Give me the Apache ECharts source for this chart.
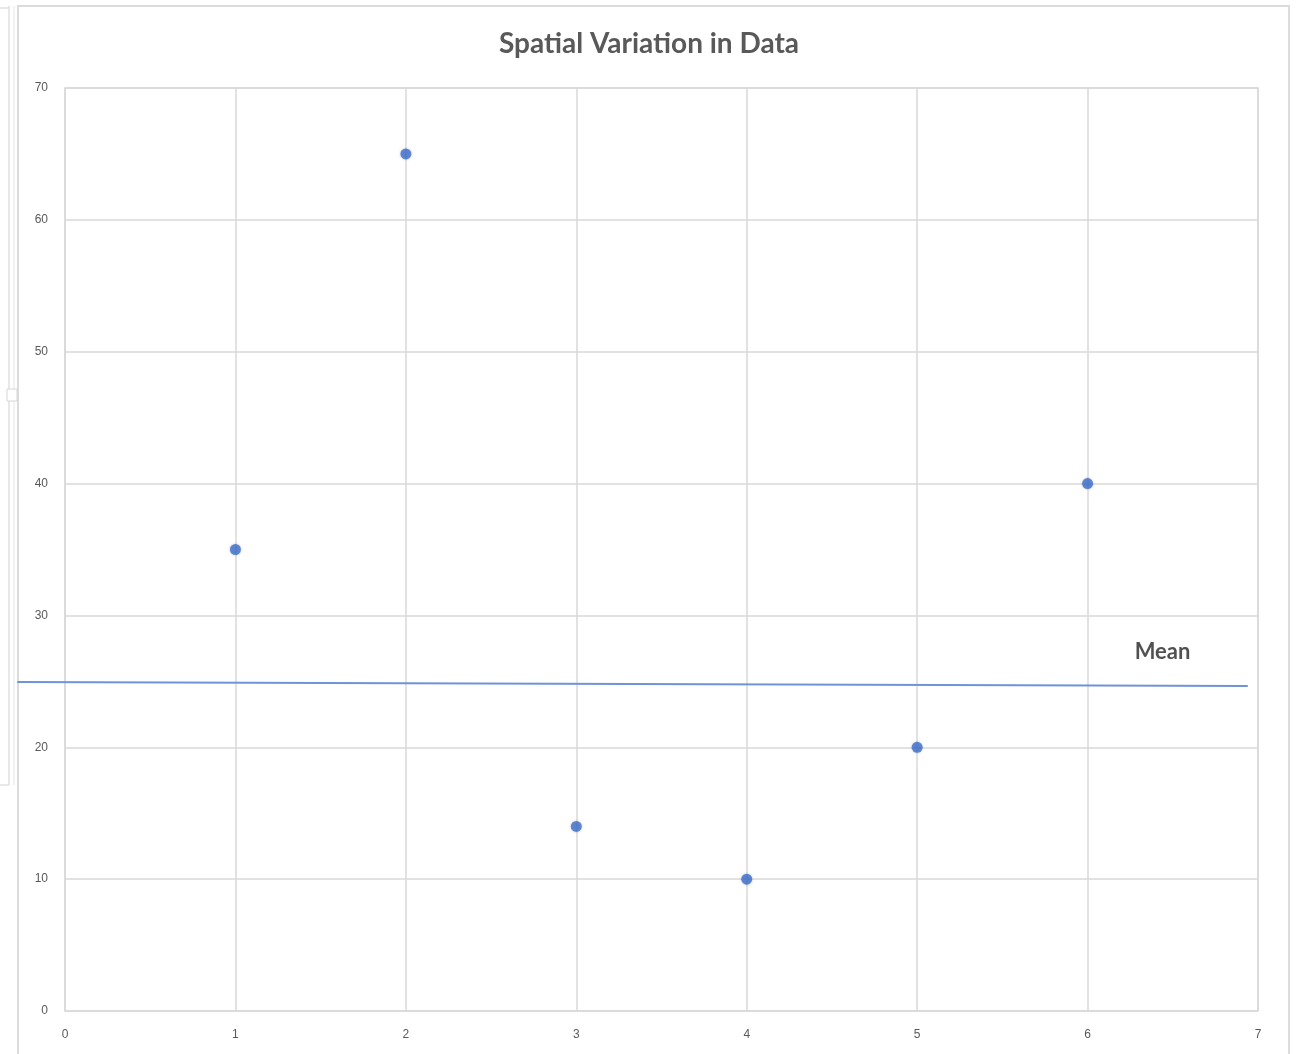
<!DOCTYPE html>
<html>
<head>
<meta charset="utf-8">
<script src="https://cdn.jsdelivr.net/npm/echarts@6/dist/echarts.min.js"></script>
<style>
html,body{margin:0;padding:0;background:#fff;}
#chart{width:1298px;height:1054px;}
</style>
</head>
<body>
<div id="chart"></div>
<script>
const title = 'Spatial Variation in Data';
const xValues = [1, 2, 3, 4, 5, 6];
const yValues = [35, 65, 14, 10, 20, 40];
const meanLine = [[-0.28, 24.95], [6.94, 24.65]];
const meanLabel = [[6.44, 27.2]];
const meanText = 'Mean';

const points = xValues.map((x, i) => [x, yValues[i]]);
const chart = echarts.init(document.getElementById('chart'));
const gray = '#595959';
chart.setOption({
  animation: false,
  backgroundColor: '#fff',
  title: {
    text: title, left: 'center', top: 25,
    textStyle: {fontFamily: 'Lato', fontWeight: 'bold', fontSize: 28, color: gray}
  },
  graphic: [
    {type: 'rect', shape: {x: 18, y: 6, width: 1271, height: 1070}, style: {fill: 'none', stroke: '#dcdcdc', lineWidth: 2}, z: -1},
    {type: 'line', shape: {x1: 9, y1: 6, x2: 9, y2: 785}, style: {stroke: '#e0e0e0', lineWidth: 1.5}},
    {type: 'line', shape: {x1: 14, y1: 6, x2: 14, y2: 785}, style: {stroke: '#e6e6e6', lineWidth: 1}},
    {type: 'line', shape: {x1: 0, y1: 785, x2: 9, y2: 785}, style: {stroke: '#e0e0e0', lineWidth: 1.5}},
    {type: 'line', shape: {x1: 0, y1: 8, x2: 9, y2: 8}, style: {stroke: '#e0e0e0', lineWidth: 1.5}},
    {type: 'rect', shape: {x: 7, y: 389, width: 10, height: 12}, style: {fill: '#fff', stroke: '#d6d6d6', lineWidth: 1}}
  ],
  grid: {left: 65, right: 40, top: 88, bottom: 43, show: true, borderColor: '#d9d9d9', borderWidth: 1.5},
  xAxis: {
    type: 'value', min: 0, max: 7, interval: 1,
    axisLine: {show: false}, axisTick: {show: false},
    axisLabel: {color: gray, fontSize: 12, fontFamily: 'Liberation Sans', margin: 18},
    splitLine: {show: true, lineStyle: {color: '#d9d9d9', width: 1.5}}
  },
  yAxis: {
    type: 'value', min: 0, max: 70, interval: 10,
    axisLine: {show: false}, axisTick: {show: false},
    axisLabel: {color: gray, fontSize: 12, fontFamily: 'Liberation Sans', margin: 17},
    splitLine: {show: true, lineStyle: {color: '#d9d9d9', width: 1.5}}
  },
  series: [
    {
      type: 'custom', clip: false, silent: true, z: 3,
      data: [meanLine[0].concat(meanLine[1])],
      renderItem: function (params, api) {
        const p1 = api.coord([api.value(0), api.value(1)]);
        const p2 = api.coord([api.value(2), api.value(3)]);
        return {type: 'line', shape: {x1: p1[0], y1: p1[1], x2: p2[0], y2: p2[1]},
          style: {stroke: '#6f93d8', lineWidth: 2}};
      }
    },
    {
      type: 'scatter', data: points, symbolSize: 11,
      itemStyle: {color: '#3b6fd1', shadowBlur: 3, shadowColor: 'rgba(0,0,0,0.25)'}, z: 4
    },
    {
      type: 'scatter', data: meanLabel, symbolSize: 0, silent: true,
      label: {show: true, position: 'inside', formatter: meanText, fontFamily: 'Lato', fontWeight: 'bold', fontSize: 22, color: '#262626'}
    }
  ]
});
</script>
</body>
</html>
